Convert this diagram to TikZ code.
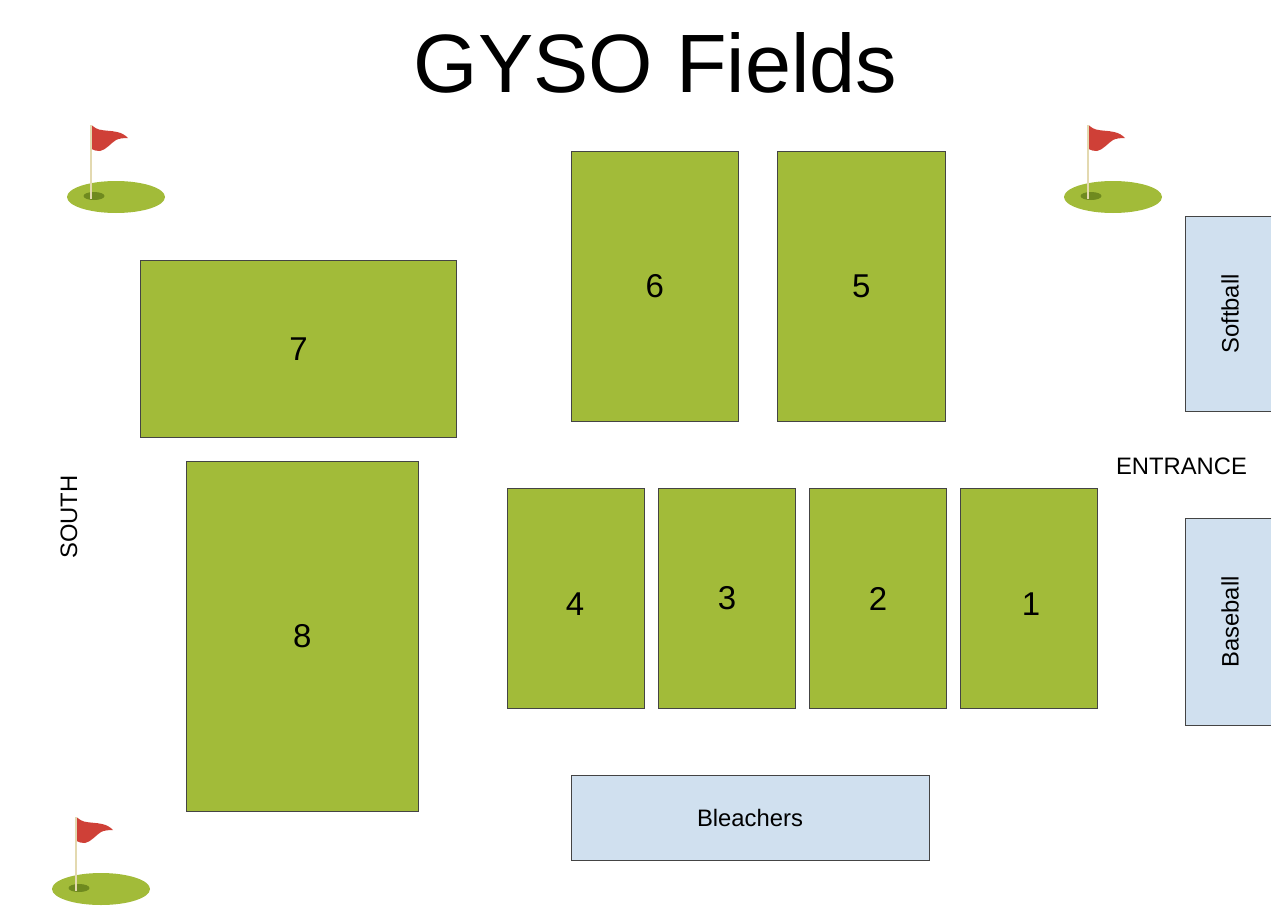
\documentclass[tikz,border=0pt]{standalone}
\usepackage{fontspec}
\setmainfont{Liberation Sans}
\definecolor{fieldgreen}{HTML}{A2BB39}
\definecolor{standblue}{HTML}{D0E0EF}
\definecolor{edgegrey}{HTML}{444444}
\definecolor{flagred}{HTML}{CF4037}
\definecolor{polecream}{HTML}{E3D9B0}
\definecolor{holegreen}{HTML}{6F8A1F}
\tikzset{
  fieldbox/.style={draw=edgegrey,line width=0.9pt,fill=fieldgreen,font=\fontsize{33}{33}\selectfont,inner sep=0pt},
  standbox/.style={draw=edgegrey,line width=0.9pt,fill=standblue,font=\fontsize{23.8}{24}\selectfont,inner sep=0pt},
  openbox/.style={fill=standblue,inner sep=0pt},
  plainlabel/.style={font=\fontsize{23.8}{24}\selectfont,inner sep=0pt},
  openedge/.style={draw=edgegrey,line width=0.9pt},
  pics/golfflag/.style={code={
    \fill[fieldgreen] (25,72) ellipse [x radius=49,y radius=16];
    \fill[holegreen] (3,71) ellipse [x radius=10.5,y radius=4];
    \fill[flagred] (0.5,0) .. controls (4,3) and (6,4) .. (8,4.5) .. controls (14,6) and (20,5.5) .. (26,7)
       .. controls (31,8) and (34,10) .. (37,13) .. controls (32,13) and (28,13.5) .. (25,15)
       .. controls (20,18) and (15,25) .. (9,26) .. controls (6,26.5) and (3,25) .. (0.5,24) -- cycle;
    \fill[polecream] (-1.5,0) -- (0.5,0) -- (0.5,74) -- (-1.5,74) -- cycle;
  }}
}
\begin{document}
\begin{tikzpicture}[x=1pt,y=-1pt]
\useasboundingbox (0,0) rectangle (1283,910);
\node[font=\fontsize{82.8}{84}\selectfont,inner sep=0pt,anchor=base] (title) at (655.5,92) {GYSO Fields};

\pic at (91,125) {golfflag};
\pic at (1088,125) {golfflag};
\pic at (76,817) {golfflag};

\node[fieldbox,minimum width=167.5pt,minimum height=270pt] (f6) at (654.75,286) {6};
\node[fieldbox,minimum width=167.5pt,minimum height=270pt] (f5) at (861.25,286) {5};
\node[fieldbox,minimum width=316pt,minimum height=177pt] (f7) at (298.5,349) {7};
\node[fieldbox,minimum width=231.5pt,minimum height=350pt] (f8) at (302.25,636) {8};
\node[fieldbox,minimum width=137pt,minimum height=220pt] (f4) at (576,598.5) {};
\node[fieldbox,minimum width=137pt,minimum height=220pt] (f3) at (727,598.5) {3};
\node[fieldbox,minimum width=137pt,minimum height=220pt] (f2) at (878,598.5) {2};
\node[fieldbox,minimum width=137pt,minimum height=220pt] (f1) at (1029,598.5) {};
\node[font=\fontsize{33}{33}\selectfont,inner sep=0pt] (n4) at (575,604) {4};
\node[font=\fontsize{33}{33}\selectfont,inner sep=0pt] (n1) at (1031,604) {1};

\node[standbox,minimum width=358pt,minimum height=85pt] (bleachers) at (750,818) {Bleachers};

\node[openbox,minimum width=85.5pt,minimum height=194pt] (softball) at (1228.5,314) {};
\node[openbox,minimum width=85.5pt,minimum height=206pt] (baseball) at (1228.5,622) {};
\draw[openedge] (softball.north east) -- (softball.north west) -- (softball.south west) -- (softball.south east);
\draw[openedge] (baseball.north east) -- (baseball.north west) -- (baseball.south west) -- (baseball.south east);
\node[plainlabel,rotate=90] (softballtext) at (1230,314) {Softball};
\node[plainlabel,rotate=90] (baseballtext) at (1230,622) {Baseball};
\node[plainlabel] (entrance) at (1181.5,466) {ENTRANCE};
\node[plainlabel,rotate=90] (south) at (69,517) {SOUTH};
\end{tikzpicture}
\end{document}
